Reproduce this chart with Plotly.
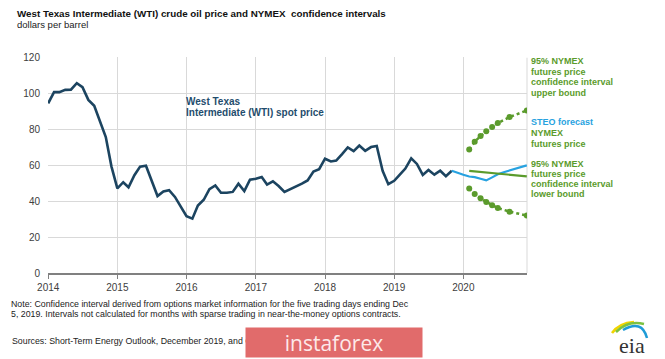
import plotly.graph_objects as go
import pandas as pd

# ---------------- data ----------------
wti_start = "2014-01-01"
wti_spot = [
    94.6, 100.8, 100.8, 102.1, 102.2, 105.8, 103.6, 96.5, 93.2, 84.4, 75.8, 59.3,   # 2014
    47.2, 50.6, 47.8, 54.5, 59.3, 59.8, 50.9, 42.9, 45.5, 46.2, 42.4, 37.2,         # 2015
    31.7, 30.3, 37.6, 40.8, 46.7, 48.8, 44.7, 44.7, 45.2, 49.8, 45.7, 52.0,         # 2016
    52.5, 53.5, 49.3, 51.1, 48.5, 45.2, 46.6, 48.0, 49.8, 51.6, 56.6, 57.9,         # 2017
    63.7, 62.2, 62.7, 66.3, 70.0, 67.9, 71.0, 68.1, 70.2, 70.8, 57.0, 49.5,         # 2018
    51.4, 55.0, 58.2, 63.9, 60.8, 54.7, 57.4, 54.8, 57.0, 54.0, 57.0,               # 2019
]
steo_start = "2019-11-01"
steo_forecast = [57.0, 55.8, 54.8, 53.8, 53.4, 52.5, 51.6, 53.3, 55.0, 56.2, 57.2, 58.2, 59.1, 60.0]

nymex_start = "2020-02-01"
nymex_futures = [56.9, 56.6, 56.3, 56.0, 55.7, 55.4, 55.1, 54.8, 54.5, 54.2, 53.9]
ci_upper = [68.9, 73.2, 76.3, 79.0, 81.4, 83.6, None, 86.9, None, None, 90.6]
ci_lower = [47.1, 44.1, 41.6, 39.6, 37.8, 36.2, None, 34.2, None, None, 32.0]

y_ticks = [0, 20, 40, 60, 80, 100, 120]

title = "West Texas Intermediate (WTI) crude oil price and NYMEX  confidence intervals"
subtitle = "dollars per barrel"
wti_label = ["West Texas", "Intermediate (WTI) spot price"]
upper_label = ["95% NYMEX", "futures price", "confidence interval", "upper bound"]
steo_label = "STEO forecast"
futures_label = ["NYMEX", "futures price"]
lower_label = ["95% NYMEX", "futures price", "confidence interval", "lower bound"]
note_lines = [
    "Note: Confidence interval derived from options market information for the five trading days ending Dec",
    "5, 2019. Intervals not calculated for months with sparse trading in near-the-money options contracts.",
]
sources = "Sources: Short-Term Energy Outlook, December 2019, and CME Group"

# ---------------- styles ----------------
W, H = 665, 359
PL, PR, PT, PB = 48, 527, 57, 273
NAVY = "#1c4460"
BLUE = "#27a2e0"
GREEN = "#5b9b2c"
GRID = "#d9d9d9"
AXIS = "#808080"
TXT = "#404040"
FONT = "Liberation Sans, Arial, sans-serif"


def fx(x):
    return (x - PL) / (PR - PL)


def fy(y):
    return (PB - y) / (PB - PT)


def months(start, n):
    return pd.date_range(start, periods=n, freq="MS")


fig = go.Figure()
fig.add_trace(go.Scatter(x=months(wti_start, len(wti_spot)), y=wti_spot, mode="lines",
                         line=dict(color=NAVY, width=2.6), hoverinfo="skip"))
fig.add_trace(go.Scatter(x=months(steo_start, len(steo_forecast)), y=steo_forecast, mode="lines",
                         line=dict(color=BLUE, width=2.2), hoverinfo="skip"))
fig.add_trace(go.Scatter(x=months(nymex_start, len(nymex_futures)), y=nymex_futures, mode="lines",
                         line=dict(color=GREEN, width=2.2), hoverinfo="skip"))
for ser in (ci_upper, ci_lower):
    fig.add_trace(go.Scatter(x=months(nymex_start, len(ser)), y=ser, mode="lines+markers",
                             connectgaps=True,
                             line=dict(color=GREEN, width=2.5, dash="dot"),
                             marker=dict(color=GREEN, size=6), hoverinfo="skip"))

ann = []


def text(x, y, s, size, color=TXT, bold=False, anchor="left", family=FONT):
    ann.append(dict(x=fx(x), y=fy(y), xref="paper", yref="paper", text=("<b>%s</b>" % s) if bold else s,
                    showarrow=False, xanchor=anchor, yanchor="middle",
                    font=dict(size=size, color=color, family=family)))


text(15, 13.3, title, 9.8, "#111111", bold=True)
text(15, 24.5, subtitle, 9.5, "#222222")
for i, s in enumerate(wti_label):
    text(184, 101.7 + 11 * i, s, 10, "#1f4d6d", bold=True)
for i, s in enumerate(upper_label):
    text(529, 61 + 10.5 * i, s, 9, GREEN, bold=True)
text(529, 122.5, steo_label, 9, BLUE, bold=True)
for i, s in enumerate(futures_label):
    text(529, 133 + 10.5 * i, s, 9, GREEN, bold=True)
for i, s in enumerate(lower_label):
    text(529, 163.5 + 10.3 * i, s, 9, GREEN, bold=True)
for i, s in enumerate(note_lines):
    text(9, 304 + 9.5 * i, s, 8.8, "#222222")
text(10, 341, sources, 8.8, "#222222")

# watermark
ann.append(dict(x=fx(333.5), y=fy(342.8), xref="paper", yref="paper", text="instaforex",
                showarrow=False, xanchor="center", yanchor="middle", width=176, height=29,
                borderpad=0, bgcolor="#e16b6b",
                font=dict(size=21, color="#fde9e9", family="Open Sans, sans-serif")))
# eia logo text
text(631.5, 345, "eia", 22, "#333333", anchor="center", family="Liberation Serif, DejaVu Serif, serif")

shapes = [
    dict(type="line", xref="x domain", yref="y", x0=1, x1=1, y0=0, y1=120, line=dict(color=GRID, width=1), layer="below"),
    dict(type="path", xref="paper", yref="paper",
         path="M %f,%f Q %f,%f %f,%f" % (fx(612), fy(333), fx(619), fy(323), fx(634), fy(322)),
         line=dict(color="#f0d400", width=2.5)),
    dict(type="path", xref="paper", yref="paper",
         path="M %f,%f Q %f,%f %f,%f" % (fx(616), fy(332), fx(628), fy(320), fx(644), fy(324)),
         line=dict(color="#7cc142", width=2.5)),
    dict(type="path", xref="paper", yref="paper",
         path="M %f,%f Q %f,%f %f,%f" % (fx(623), fy(330), fx(642), fy(319), fx(647), fy(338)),
         line=dict(color="#1e9bd7", width=2.5)),
]

fig.update_layout(
    width=W, height=H,
    margin=dict(l=PL, r=W - PR, t=PT, b=H - PB, pad=0),
    paper_bgcolor="white", plot_bgcolor="white",
    showlegend=False,
    annotations=ann, shapes=shapes,
    font=dict(family=FONT, size=10, color=TXT),
)
fig.update_xaxes(range=["2013-12-31", "2020-12-02"], type="date",
                 tick0="2014-01-01", dtick="M12", tickformat="%Y",
                 showgrid=True, gridcolor=GRID, gridwidth=1,
                 showline=True, linecolor=AXIS, linewidth=2,
                 ticks="outside", ticklen=4, tickcolor=AXIS, tickwidth=1,
                 tickfont=dict(size=10, color=TXT), zeroline=False)
fig.update_yaxes(range=[0, 120.4], tickvals=y_ticks, showgrid=True, gridcolor=GRID, gridwidth=1,
                 zeroline=False, showline=False, ticks="", ticklabelstandoff=7,
                 tickfont=dict(size=10, color=TXT))

fig.write_html("out.html", config={"displayModeBar": False},
               post_script="document.body.style.margin='0';document.body.style.overflow='hidden';")
